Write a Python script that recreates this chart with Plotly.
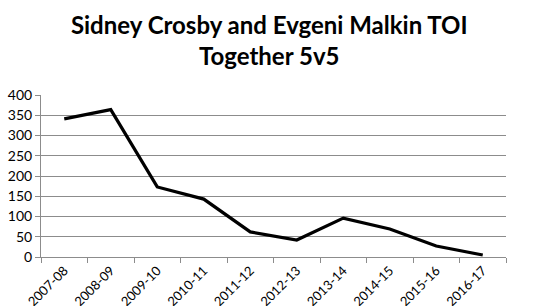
import plotly.graph_objects as go

seasons = ["2007-08", "2008-09", "2009-10", "2010-11", "2011-12",
           "2012-13", "2013-14", "2014-15", "2015-16", "2016-17"]
toi = [341, 364, 173, 143, 62, 42, 96, 69, 27, 5]
y_ticks = [0, 50, 100, 150, 200, 250, 300, 350, 400]

fig = go.Figure()
fig.add_trace(go.Scatter(x=seasons, y=toi, mode="lines",
                         line=dict(color="black", width=3.2), showlegend=False))

fig.update_layout(
    width=544, height=306,
    paper_bgcolor="white", plot_bgcolor="white",
    margin=dict(l=41, r=38, t=95, b=49, autoexpand=False),
    title=dict(text="<b>Sidney Crosby and Evgeni Malkin TOI<br>Together 5v5</b>",
               x=0.495, xanchor="center", y=0.89, yanchor="middle",
               font=dict(family="Lato, Open Sans, sans-serif", size=24, color="black")),
    font=dict(family="Lato, Open Sans, sans-serif", size=12, color="black"),
)
fig.update_xaxes(
    type="category", tickangle=-45, showgrid=False, automargin=False,
    showline=True, linecolor="#8c8c8c", linewidth=1,
    ticks="outside", ticklen=5, tickcolor="#8c8c8c", tickson="boundaries",
    range=[-0.5, len(seasons) - 0.5],
    tickfont=dict(size=13),
)
fig.update_yaxes(
    range=[0, 400], tickvals=y_ticks, showgrid=True, gridcolor="#8c8c8c", gridwidth=1,
    showline=True, linecolor="#8c8c8c", linewidth=1, automargin=False,
    ticks="outside", ticklen=5, tickcolor="#8c8c8c", zeroline=False,
    tickfont=dict(size=14),
)
fig.write_html("out.html")
